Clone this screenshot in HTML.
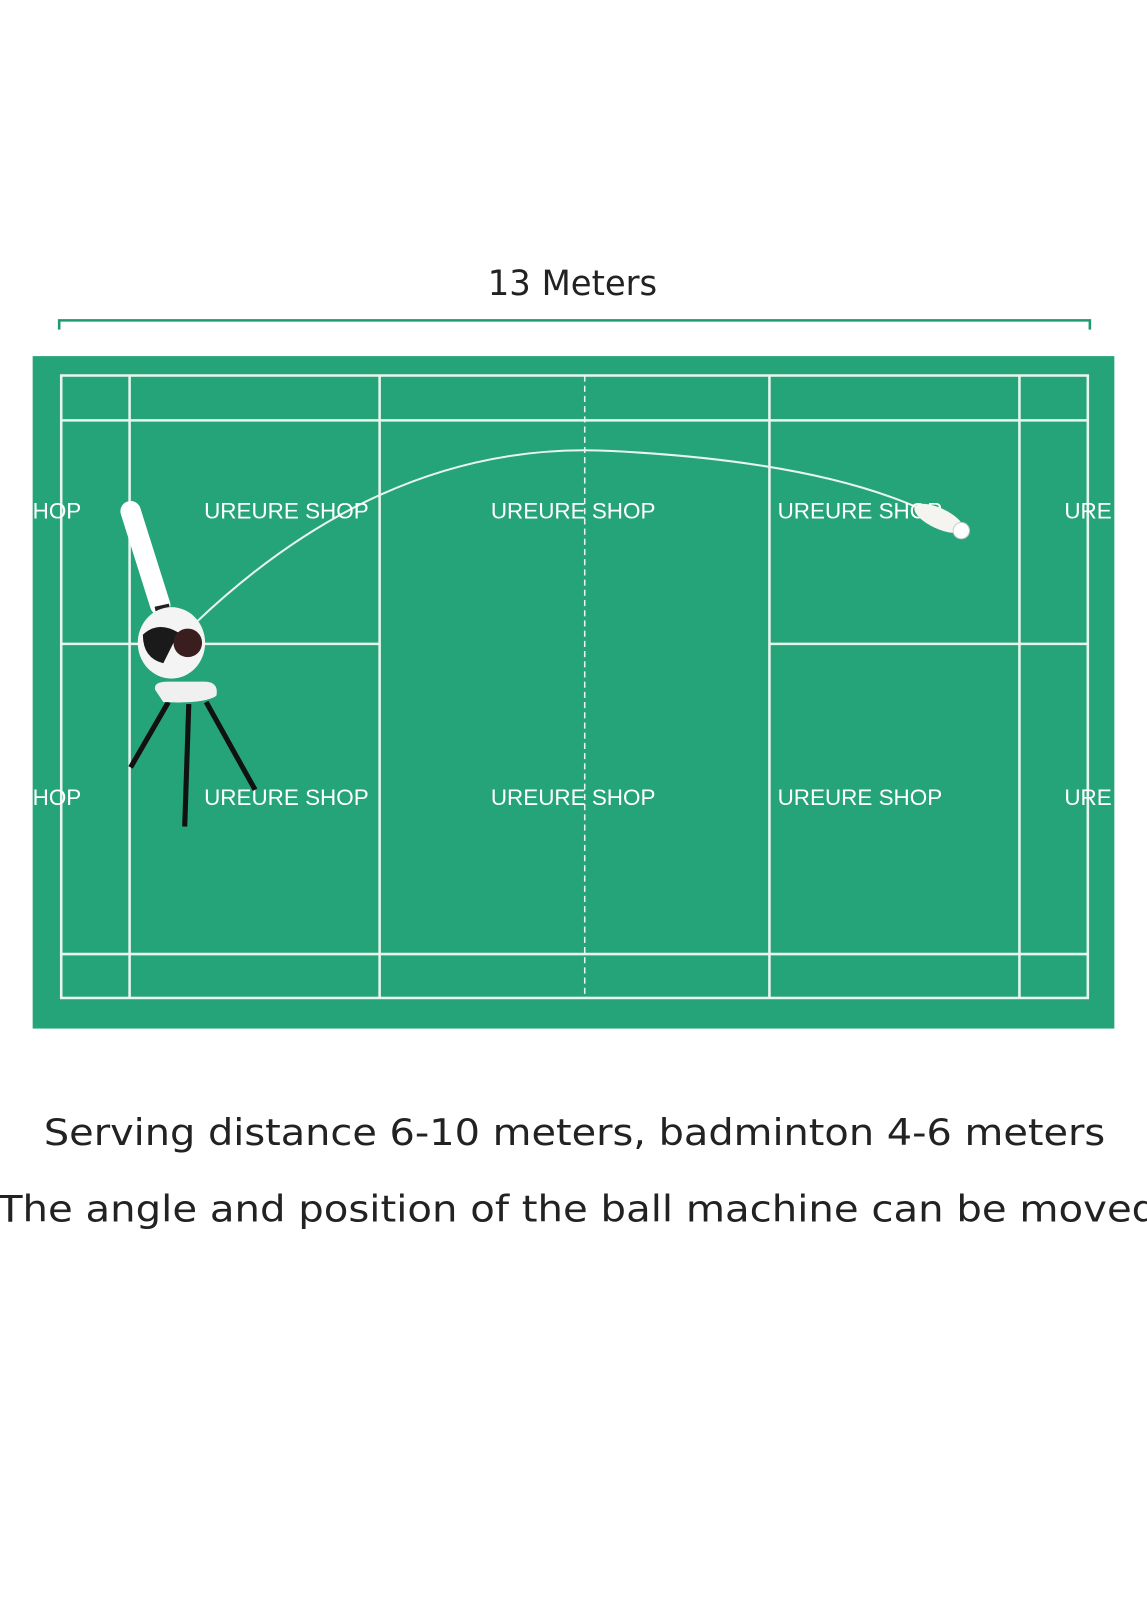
<!DOCTYPE html>
<html><head><meta charset="utf-8"><style>
html,body{margin:0;padding:0;background:#fff;width:1147px;height:1600px;overflow:hidden}
svg{display:block}
</style></head><body>
<svg width="1147" height="1600" viewBox="0 0 1124 1568" preserveAspectRatio="none" xmlns="http://www.w3.org/2000/svg">
<text x="478" y="289" textLength="166" lengthAdjust="spacingAndGlyphs" font-family="DejaVu Sans, Liberation Sans, sans-serif" font-size="34" fill="#222">13 Meters</text>
<path d="M58 323 V314 H1068 V323" fill="none" stroke="#1f9a70" stroke-width="2.5"/>
<rect x="32" y="349" width="1060" height="659" fill="#25a479"/>
<g stroke="#e8f5ee" stroke-width="2.5" fill="none">
<rect x="60" y="368" width="1006" height="610"/>
<line x1="60" y1="412" x2="1066" y2="412"/>
<line x1="60" y1="935" x2="1066" y2="935"/>
<line x1="127" y1="368" x2="127" y2="978"/>
<line x1="372" y1="368" x2="372" y2="978"/>
<line x1="754" y1="368" x2="754" y2="978"/>
<line x1="999" y1="368" x2="999" y2="978"/>
<line x1="60" y1="631" x2="372" y2="631"/>
<line x1="754" y1="631" x2="1066" y2="631"/>
<line x1="573" y1="368" x2="573" y2="978" stroke-dasharray="6 4" stroke-width="1.5"/>
<path d="M190 612 Q 380 430 600 442 Q 800 452 905 500" stroke-width="2"/>
</g>
<g font-family="Liberation Sans, sans-serif" font-size="22" fill="#fff">
<text x="32" y="508">HOP</text><text x="200" y="508">UREURE SHOP</text><text x="481" y="508">UREURE SHOP</text><text x="762" y="508">UREURE SHOP</text><text x="1043" y="508">URE</text>
<text x="32" y="789">HOP</text><text x="200" y="789">UREURE SHOP</text><text x="481" y="789">UREURE SHOP</text><text x="762" y="789">UREURE SHOP</text><text x="1043" y="789">URE</text>
</g>
<g>
<line x1="165" y1="688" x2="128" y2="752" stroke="#111" stroke-width="5"/>
<line x1="185" y1="690" x2="181" y2="810" stroke="#111" stroke-width="5"/>
<line x1="202" y1="688" x2="250" y2="774" stroke="#111" stroke-width="5"/>
<line x1="128" y1="501" x2="157" y2="593" stroke="#fff" stroke-width="20" stroke-linecap="round"/>
<line x1="152" y1="597" x2="166" y2="594" stroke="#222" stroke-width="5"/>
<ellipse cx="168" cy="630" rx="33" ry="35" fill="#f4f4f4"/>
<path d="M140 622 Q155 608 175 620 L160 650 Q140 645 140 622Z" fill="#1a1a1a"/>
<circle cx="184" cy="630" r="14" fill="#3a1e1e"/>
<path d="M152 676 Q150 668 165 668 H200 Q215 668 212 682 Q200 690 160 688Z" fill="#f0f0f0"/>
<ellipse cx="920" cy="508" rx="26" ry="10" fill="#f4f4f0" transform="rotate(25 920 508)"/>
<circle cx="942" cy="520" r="8" fill="#fff" stroke="#ccc"/>
</g>
<g font-family="DejaVu Sans, Liberation Sans, sans-serif" font-size="36" fill="#222">
<text x="43" y="1122" textLength="1040" lengthAdjust="spacingAndGlyphs">Serving distance 6-10 meters, badminton 4-6 meters</text>
<text x="-2" y="1197" textLength="1136" lengthAdjust="spacingAndGlyphs">The angle and position of the ball machine can be moved</text>
</g>
</svg>
</body></html>
